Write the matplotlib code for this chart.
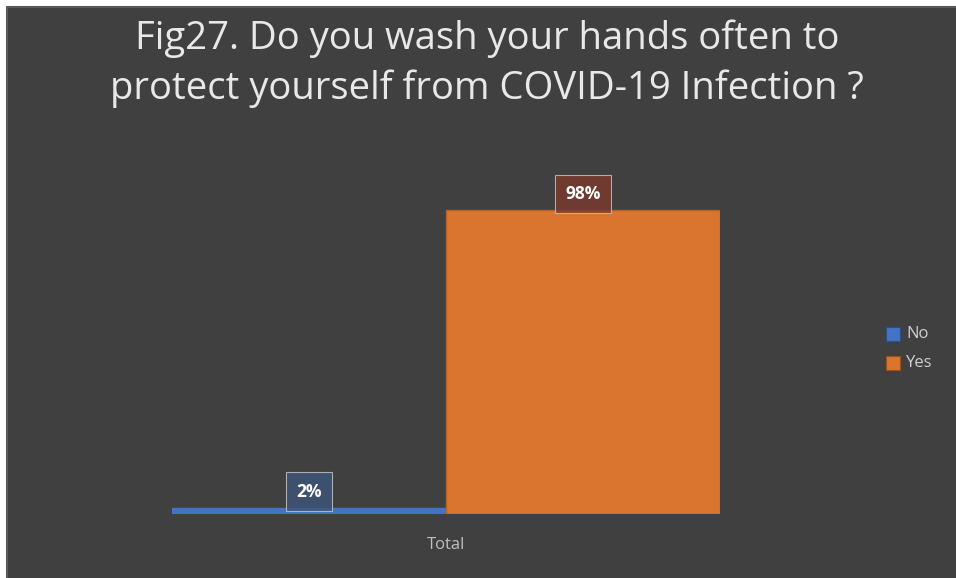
import numpy as np
import matplotlib
matplotlib.use("Agg")
from matplotlib import pyplot as plt
from matplotlib.patches import Rectangle

# data
series = ["No", "Yes"]
values = [2, 98]
colors = ["#4472C4", "#D9752F"]
label_faces = ["#3d557a", "#7b3a2c"]
category = "Total"
title = "Fig27. Do you wash your hands often to\nprotect yourself from COVID-19 Infection ?"

W, H = 956, 578
fig = plt.figure(figsize=(W / 100, H / 100), dpi=100)
fig.patch.set_facecolor("white")

# dark panel with thin border (runs off the right/bottom edges)
panel = Rectangle((7 / W, -0.01), 1.02 - 7 / W, 1.01 - 7 / H, transform=fig.transFigure,
                  facecolor="#404040", edgecolor="#5a5a5a", linewidth=1.5, zorder=-10)
fig.patches.append(panel)

# axes placed so bars land where the reference has them
left, right, base, top = 172, 720, 514, 204
ax = fig.add_axes([left / W, (H - base) / H, (right - left) / W, (base - top) / H])
ax.set_facecolor("none")
ax.set_xlim(-1, 1)
ax.set_ylim(0, 100)
for s in ax.spines.values():
    s.set_visible(False)
ax.set_xticks([])
ax.set_yticks([])

xs = [-0.5, 0.5]
bars = ax.bar(xs, values, width=1.0, color=colors, edgecolor=["#4472C4", "#b85e22"],
              linewidth=1, label=series)

for x, v, fc in zip(xs, values, label_faces):
    ax.text(x, v + 5.2, f"{v}%", ha="center", va="center", fontsize=12.5,
            fontweight="bold", color="white", family="Open Sans", clip_on=False,
            bbox=dict(boxstyle="square,pad=0.6", facecolor=fc, alpha=0.8,
                      edgecolor="#c8c8c8", linewidth=0.8))

fig.text(446 / W, 1 - 545 / H, category, ha="center", va="center", fontsize=12,
         color="#bfbfbf", family="Open Sans")

fig.text(487 / W, 1 - 64 / H, title, ha="center", va="center", fontsize=27.5,
         color="#e8e8e8", family="Open Sans", linespacing=1.38)

# legend
for i, (name, c) in enumerate(zip(series, colors)):
    y = 1 - (334 + 29 * i) / H
    fig.patches.append(Rectangle((886 / W, y - 7 / H), 14 / W, 14 / H,
                                 transform=fig.transFigure, facecolor=c,
                                 edgecolor="#2f4f8a" if i == 0 else "#9a4f1c",
                                 linewidth=0.8))
    fig.text(906 / W, y, name, ha="left", va="center", fontsize=12,
             color="#d0d0d0", family="Open Sans")

plt.savefig("out.png", dpi=100)
plt.close()
